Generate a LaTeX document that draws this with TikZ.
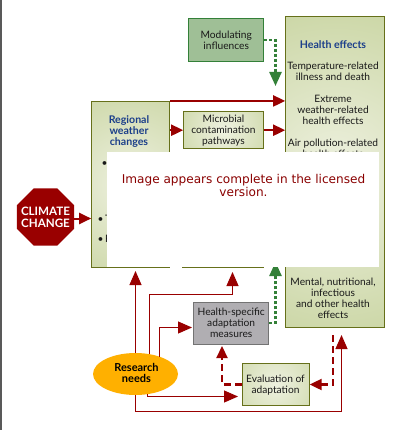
\documentclass[tikz,border=0pt]{standalone}
\usepackage{fontspec}
\setmainfont{Lato}
\newfontfamily\coverfont{DejaVu Sans}
\usetikzlibrary{arrows.meta,shapes.geometric}
\definecolor{olivefill}{HTML}{C8D4A0}
\definecolor{olivelight}{HTML}{EEF1E0}
\definecolor{oliveline}{HTML}{66701A}
\definecolor{modfill}{HTML}{9FBF96}
\definecolor{dgreen}{HTML}{338038}
\definecolor{dred}{HTML}{990000}
\definecolor{ttlblue}{HTML}{1C3F8A}
\definecolor{gold}{HTML}{FFB000}
\definecolor{hsagray}{HTML}{B0AEB2}
\tikzset{
  x=1pt,y=-1pt,
  txt/.style={font=\fontsize{10.2}{11}\selectfont,align=center,inner sep=0pt,text=black!90},
  ttl/.style={font=\fontsize{10.6}{10.7}\selectfont\bfseries,align=center,inner sep=0pt,text=ttlblue},
  softbox/.style={draw=oliveline,line width=1pt,fill=olivefill,inner sep=0pt,
    path picture={\shade[inner color=olivelight,outer color=olivefill]
      (path picture bounding box.center) circle (#1);}},
  redthick/.style={draw=dred,line width=2pt,-{Triangle[length=12pt,width=11pt,fill=dred]}},
  redthin/.style={draw=dred,line width=1.1pt,-{Triangle[length=14pt,width=12pt,fill=dred]}},
  reddash/.style={draw=dred,line width=2.2pt,dash pattern=on 7pt off 4pt,-{Triangle[length=12pt,width=11pt,fill=dred]}},
  greendash/.style={draw=dgreen,line width=2.4pt,dash pattern=on 3pt off 2pt,-{Triangle[length=14pt,width=12pt,fill=dgreen]}},
}
\begin{document}
\begin{tikzpicture}
\useasboundingbox (0,0) rectangle (400,430);
\fill[white] (0,0) rectangle (400,430);
\fill[black!65] (0,0) rectangle (1.5,430);
% boxes
\node[softbox=185pt,minimum width=99pt,minimum height=311pt] (health) at (335.2,172) {};
\node[softbox=115pt,minimum width=78pt,minimum height=166.5pt] (reg) at (130.7,184.7) {};
\node[softbox=60pt,minimum width=80pt,minimum height=37.5pt] (micro) at (223.7,130.2) {};
\node[softbox=60pt,minimum width=81pt,minimum height=100pt] (hidden) at (222.5,217.5) {};
\node[softbox=60pt,minimum width=67pt,minimum height=42pt] (evalbox) at (275.7,384.5) {};
\node[draw=dgreen,line width=1pt,fill=modfill,inner sep=0pt,minimum width=75pt,minimum height=43pt,txt] (mod) at (226.2,40) {Modulating\\influences};
\node[draw=black!55,line width=1pt,fill=hsagray,inner sep=0pt,minimum width=75pt,minimum height=42pt,txt] (hsa) at (231.2,323) {Health-specific\\adaptation\\measures};
\node[ellipse,fill=gold,inner sep=0pt,minimum width=85pt,minimum height=42pt] (res) at (135.5,374) {};
\node[regular polygon,regular polygon sides=8,fill=dred,inner sep=0pt,minimum size=61.7pt] (cc) at (45.5,217) {};
% texts
\node[font=\fontsize{11.6}{11.8}\selectfont\bfseries,align=center,inner sep=0pt,text=white] (cctext) at (45.5,217) {CLIMATE\\CHANGE};
\node[font=\fontsize{11}{11}\selectfont\bfseries,align=center,inner sep=0pt,text=black] (restext) at (136.5,373) {Research\\needs};
\node[ttl] (regt) at (129,131.5) {Regional\\weather\\changes};
\node[txt] (microt) at (223.5,130.3) {Microbial\\contamination\\pathways};
\node[txt] (evalt) at (275.5,385.5) {Evaluation of\\adaptation};
\node[ttl] (healtht) at (333,45) {Health effects};
\node[txt] (h1) at (333,71.5) {Temperature-related\\illness and death};
\node[txt] (h2) at (333,109.7) {Extreme\\weather-related\\health effects};
\node[txt] (h3) at (333,148.7) {Air pollution-related\\health effects};
\node[txt] (h4) at (333,298.5) {Mental, nutritional,\\infectious\\and other health\\effects};
\node[txt,anchor=west] (b1) at (101.5,164) {•};
\node[txt,anchor=west] (b2) at (97.5,218.5) {•\hspace{1.5pt}T};
\node[txt,anchor=west] (b3) at (97.5,239) {•\hspace{1.5pt}F};
% free ends
\coordinate (gin) at (275.5,86);
\coordinate (gout) at (275.5,262);
\coordinate (k1) at (135.5,271);
\coordinate (k2) at (232.5,294.5);
\coordinate (k2t) at (232.5,272);
\coordinate (k3) at (192,327.5);
\coordinate (k4) at (238,396.5);
\coordinate (k5) at (341.5,411.5);
\coordinate (k5t) at (341.5,335);
\coordinate (k6) at (222,346);
\coordinate (k7) at (333,335);
% connectors
\draw[redthick] (cc.east|-0,218.5) -- (reg.west|-0,218.5);
\draw[redthick] (reg.north east) -- (reg.north east-|health.west);
\draw[redthick] (micro.west-|reg.east) -- (micro.west);
\draw[redthick] (micro.east) -- (micro.east-|health.west);
\draw[greendash] (mod.east) -| (gin);
\draw[greendash] (hsa.east) -| (gout);
\draw[redthin] (res.north) -- (k1);
\draw[redthin] (res.55) |- (k2) -- (k2t);
\draw[redthin] (res.36) |- (k3);
\draw[redthin] (res.-59) |- (k4);
\draw[redthin] (res.south) |- (k5) -- (k5t);
\draw[reddash] (evalbox.west) -| (k6);
\draw[reddash] (k7) |- (evalbox.east);
% licence cover
\node[fill=white,inner sep=0pt,minimum width=272pt,minimum height=115pt] (cover) at (243,209.5) {};
\node[text=dred!90!black,align=center,inner sep=0pt,font=\coverfont\fontsize{12.1}{13}\selectfont] (covertext) at (243.5,185.5) {Image appears complete in the licensed\\version.};
\end{tikzpicture}
\end{document}
